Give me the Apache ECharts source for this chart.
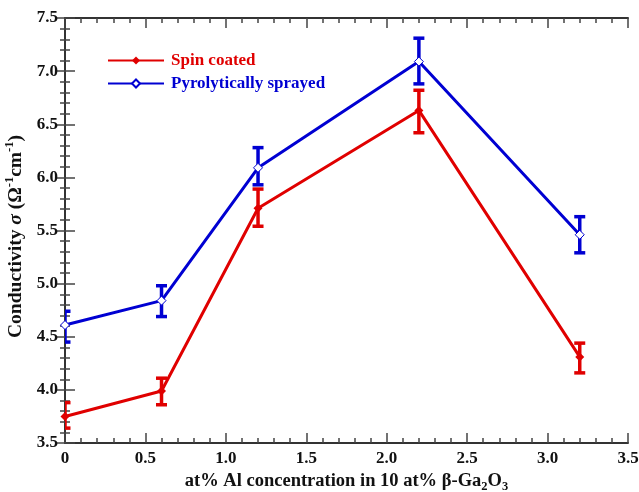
<!DOCTYPE html>
<html>
<head>
<meta charset="utf-8">
<script src="https://cdn.jsdelivr.net/npm/echarts@6/dist/echarts.min.js"></script>
<style>html,body{margin:0;padding:0;background:#fff}#c{width:639px;height:492px}</style>
</head>
<body>
<div id="c"></div>
<script>
const xValues = [0, 0.6, 1.2, 2.2, 3.2];
const spinValues = [3.75, 3.99, 5.71, 6.63, 4.31];
const spinLow = [3.64, 3.86, 5.54, 6.42, 4.16];
const spinHigh = [3.88, 4.11, 5.89, 6.82, 4.44];
const pyroValues = [4.61, 4.84, 6.09, 7.09, 5.46];
const pyroLow = [4.45, 4.69, 5.93, 6.88, 5.29];
const pyroHigh = [4.74, 4.98, 6.28, 7.31, 5.63];
const seriesNames = ['Spin coated', 'Pyrolytically sprayed'];
const RED = '#e00000', BLUE = '#0000d2';
const FONT = 'Liberation Serif';

const chart = echarts.init(document.getElementById('c'), null, {renderer: 'canvas'});

function errSeries(low, high, color) {
  return {
    type: 'custom',
    xAxisIndex: 0, yAxisIndex: 0,
    clip: true,
    z: 3,
    data: xValues.map((x, i) => [x, low[i], high[i]]),
    renderItem(params, api) {
      const x = api.value(0);
      const pt = api.coord([x, api.value(2)]);
      const pb = api.coord([x, api.value(1)]);
      const hw = 5.5;
      const st = {stroke: color, lineWidth: 3.5};
      return {type: 'group', children: [
        {type: 'line', shape: {x1: pt[0], y1: pt[1], x2: pb[0], y2: pb[1]}, style: st},
        {type: 'line', shape: {x1: pt[0] - hw, y1: pt[1], x2: pt[0] + hw, y2: pt[1]}, style: st},
        {type: 'line', shape: {x1: pb[0] - hw, y1: pb[1], x2: pb[0] + hw, y2: pb[1]}, style: st}
      ]};
    }
  };
}

const axisLineStyle = {show: true, lineStyle: {color: '#333', width: 2}};
const tickStyle = {show: true, inside: true, length: 10, lineStyle: {color: '#444', width: 1.5}};
const minorTickStyle = {show: true, inside: true, length: 5, lineStyle: {color: '#444', width: 1.5}};

function minorX(pos) {
  return {type: 'value', min: 0, max: 3.5, interval: 0.1, position: pos,
    axisLine: {show: false}, axisTick: minorTickStyle, axisLabel: {show: false}, splitLine: {show: false}};
}
function minorY(pos) {
  return {type: 'value', min: 3.5, max: 7.5, interval: 0.1, position: pos,
    axisLine: {show: false}, axisTick: minorTickStyle, axisLabel: {show: false}, splitLine: {show: false}};
}

const option = {
  animation: false,
  backgroundColor: '#fff',
  textStyle: {fontFamily: FONT},
  grid: {left: 65, right: 11, top: 18, bottom: 49, outerBoundsMode: 'none', containLabel: false},
  legend: {
    orient: 'vertical', left: 102, top: 47, itemWidth: 56, itemHeight: 10, itemGap: 6,
    data: [
      {name: seriesNames[0], textStyle: {color: RED}},
      {name: seriesNames[1], textStyle: {color: BLUE}}
    ],
    textStyle: {fontFamily: FONT, fontWeight: 'bold', fontSize: 17, padding: [0, 0, 0, 2]}
  },
  xAxis: [
    {
      type: 'value', min: 0, max: 3.5, interval: 0.5, position: 'bottom',
      axisLine: axisLineStyle, axisTick: tickStyle, splitLine: {show: false},
      axisLabel: {color: '#111', fontFamily: FONT, fontWeight: 'bold', fontSize: 17, margin: 7,
        formatter: v => v === 0 ? '0' : v.toFixed(1)},
      name: '{b|at% Al concentration in 10 at% β-Ga}{s|2}{b|O}{s|3}',
      nameLocation: 'middle', nameGap: 25,
      nameTextStyle: {fontFamily: FONT, fontWeight: 'bold', rich: {
        b: {fontFamily: FONT, fontWeight: 'bold', fontSize: 18.5, color: '#111', lineHeight: 24},
        s: {fontFamily: FONT, fontWeight: 'bold', fontSize: 12.5, color: '#111', lineHeight: 12, verticalAlign: 'bottom'}
      }}
    },
    {
      type: 'value', min: 0, max: 3.5, interval: 0.5, position: 'top',
      axisLine: axisLineStyle, axisTick: tickStyle, splitLine: {show: false},
      axisLabel: {show: false}
    },
    minorX('bottom'),
    minorX('top')
  ],
  yAxis: [
    {
      type: 'value', min: 3.5, max: 7.5, interval: 0.5, position: 'left',
      axisLine: axisLineStyle, axisTick: tickStyle, splitLine: {show: false},
      axisLabel: {color: '#111', fontFamily: FONT, fontWeight: 'bold', fontSize: 17, margin: 7,
        formatter: v => v.toFixed(1)},
      name: '{b|Conductivity }{i|σ}{b| (Ω}{p|-1}{b|cm}{p|-1}{b|)}',
      nameLocation: 'middle', nameGap: 31, nameRotate: 90,
      nameTextStyle: {fontFamily: FONT, fontWeight: 'bold', padding: [0, 12, 0, 0], rich: {
        b: {fontFamily: FONT, fontWeight: 'bold', fontSize: 19.5, color: '#111', lineHeight: 26},
        i: {fontFamily: FONT, fontWeight: 'bold', fontStyle: 'italic', fontSize: 19.5, color: '#111', lineHeight: 26},
        p: {fontFamily: FONT, fontWeight: 'bold', fontSize: 12.5, color: '#111', lineHeight: 13, verticalAlign: 'top'}
      }}
    },
    {
      type: 'value', min: 3.5, max: 7.5, interval: 0.5, position: 'right',
      axisLine: axisLineStyle, axisTick: tickStyle, splitLine: {show: false},
      axisLabel: {show: false}
    },
    minorY('left'),
    minorY('right')
  ],
  series: [
    errSeries(spinLow, spinHigh, RED),
    errSeries(pyroLow, pyroHigh, BLUE),
    {
      name: seriesNames[0], type: 'line', z: 4,
      data: xValues.map((x, i) => [x, spinValues[i]]),
      symbol: 'diamond', symbolSize: 9,
      lineStyle: {color: RED, width: 3},
      itemStyle: {color: RED, borderColor: RED, borderWidth: 0}
    },
    {
      name: seriesNames[1], type: 'line', z: 4,
      data: xValues.map((x, i) => [x, pyroValues[i]]),
      symbol: 'diamond', symbolSize: 9,
      lineStyle: {color: BLUE, width: 3},
      itemStyle: {color: '#fff', borderColor: BLUE, borderWidth: 1}
    }
  ]
};
chart.setOption(option);
</script>
</body>
</html>
